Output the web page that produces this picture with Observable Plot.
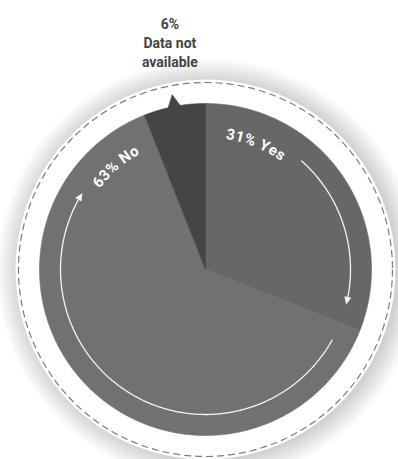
<!DOCTYPE html>
<html><head><meta charset="utf-8">
<script src="https://cdn.jsdelivr.net/npm/d3@7"></script>
<script src="https://cdn.jsdelivr.net/npm/@observablehq/plot@0.6"></script>
<style>html,body{margin:0;padding:0;background:#fff;}</style>
</head><body><div id="chart"></div>
<script>
// ---- data ----
const categories = ["Yes", "No", "Data not available"];
const values = [31, 63, 6];
const labelTexts = ["31% Yes", "63% No", "6%\nData not\navailable"];
const colors = ["#676767", "#717171", "#454545"];

// ---- layout ----
const W = 398, H = 459;
const cx = 205, cy = 269, R = 166;
const total = d3.sum(values);
const deg = Math.PI / 180;
const pt = (a, r) => [cx + r * Math.sin(a * deg), cy - r * Math.cos(a * deg)];

let acc = 0;
const slices = categories.map((c, i) => {
  const a0 = acc / total * 360; acc += values[i];
  const a1 = acc / total * 360;
  return {c, a0, a1, mid: (a0 + a1) / 2};
});

// slice polygons
const slicePts = [];
for (const s of slices) {
  slicePts.push({c: s.c, p: [cx, cy]});
  for (let a = s.a0; a < s.a1; a += 0.5) slicePts.push({c: s.c, p: pt(a, R)});
  slicePts.push({c: s.c, p: pt(s.a1, R)});
  slicePts.push({c: s.c, p: [cx, cy]});
}
// pointer on the "not available" slice
const na = slices[2];
const pointer = [pt(na.mid - 2.6, R - 2), pt(na.mid, R + 12), pt(na.mid + 2.4, R - 2)].map(p => ({p}));

// curved labels
const ctx = document.createElement("canvas").getContext("2d");
const fontSize = 15, spacing = 0.9, fontWeight = 700;
ctx.font = `${fontWeight} ${fontSize}px Roboto`;
function curved(text, centerAngle, r) {
  const chars = [...text];
  const ws = chars.map(ch => ctx.measureText(ch).width + spacing);
  const L = d3.sum(ws) - spacing;
  let s = 0;
  return chars.map((ch, i) => {
    const sc = s + (ws[i] - spacing) / 2; s += ws[i];
    const a = centerAngle + (sc - L / 2) / r / deg;
    const [x, y] = pt(a, r);
    return {ch, x, y, rot: a};
  });
}
const labelChars = [
  ...curved(labelTexts[0], slices[0].a0 + 21.8, 137),
  ...curved(labelTexts[1], slices[1].a1 - 19.5, 138)
];

// arrows (clockwise)
const AR = 145;
const arrows = [
  {a0: slices[0].a0 + 41.5, a1: slices[0].a1 - 7.5},
  {a0: slices[1].a0 + 7.5, a1: slices[1].a1 - 36.5}
];
const arrowPts = [], headPts = [];
arrows.forEach((ar, k) => {
  const headLen = 8 / AR / deg;
  for (let a = ar.a0; a < ar.a1 - headLen; a += 0.5) arrowPts.push({k, p: pt(a, AR)});
  arrowPts.push({k, p: pt(ar.a1 - headLen + 0.3, AR)});
  const b = ar.a1 - headLen;
  headPts.push({k, p: pt(b, AR - 3.6)}, {k, p: pt(ar.a1, AR)}, {k, p: pt(b, AR + 3.6)});
});

// background glow rings
const marks = [];
for (let r = 212; r >= 190; r -= 1) {
  marks.push(Plot.dot([{x: cx + 3, y: cy + 1}], {x: "x", y: "y", r, fill: "#000", fillOpacity: 0.009, stroke: "none"}));
}
marks.push(Plot.dot([{x: cx, y: cy}], {x: "x", y: "y", r: 190, fill: "#fff", stroke: "none"}));
marks.push(Plot.dot([{x: cx, y: cy}], {x: "x", y: "y", r: 187, fill: "none", stroke: "#7c7c7c", strokeWidth: 1.2, strokeDasharray: "7,4"}));

marks.push(Plot.line(slicePts, {x: d => d.p[0], y: d => d.p[1], z: "c", fill: "c", stroke: "c", strokeWidth: 0.6}));
marks.push(Plot.line(pointer, {x: d => d.p[0], y: d => d.p[1], fill: colors[2], stroke: colors[2], strokeWidth: 0.6}));

marks.push(Plot.line(arrowPts, {x: d => d.p[0], y: d => d.p[1], z: "k", stroke: "#f2f2f2", strokeWidth: 1.3}));
marks.push(Plot.line(headPts, {x: d => d.p[0], y: d => d.p[1], z: "k", fill: "#f2f2f2", stroke: "none"}));

marks.push(Plot.text(labelChars, {x: "x", y: "y", text: "ch", rotate: "rot", fill: "#fff", fontSize, fontWeight, fontFamily: "Roboto", textAnchor: "middle", lineAnchor: "middle"}));

const naPos = pt(na.mid, 190);
marks.push(Plot.text([labelTexts[2]], {x: () => naPos[0], y: () => 41, text: d => d, fill: "#444", fontSize: 14, fontWeight: 700, fontFamily: "Roboto", textAnchor: "middle", lineAnchor: "middle", lineHeight: 1.36}));

const chart = Plot.plot({
  width: W, height: H, margin: 0,
  style: {fontFamily: "Roboto", background: "#fff"},
  x: {type: "linear", domain: [0, W], range: [0, W], axis: null},
  y: {type: "linear", domain: [0, H], range: [0, H], axis: null},
  color: {domain: categories, range: colors},
  marks
});
document.getElementById("chart").append(chart);
</script>
</body></html>
